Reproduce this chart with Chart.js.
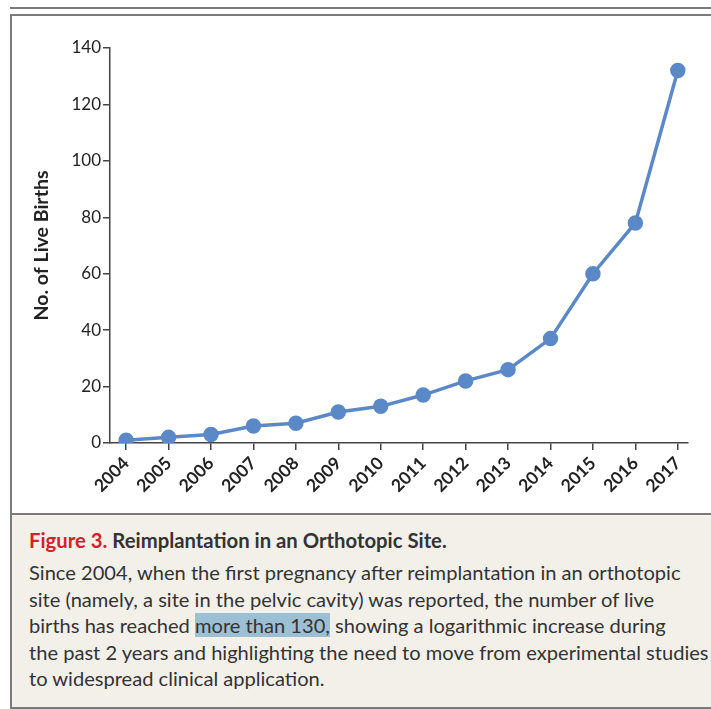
<!DOCTYPE html>
<html>
<head>
<meta charset="utf-8">
<script src="https://cdn.jsdelivr.net/npm/chart.js@4"></script>
<style>
  body { margin: 0; background: #fff; }
  #page { position: relative; width: 711px; height: 709px; overflow: hidden; font-family: Lato, "Open Sans", sans-serif; }
  #chartwrap { position: absolute; left: 0; top: 0; width: 711px; height: 500px; }
  .rule { position: absolute; background: #7a7a7a; }
  #caption { position: absolute; left: 12px; top: 515px; width: 699px; height: 192px; background: #f3f0ea; color: #333; }
  #caption .title { position: absolute; left: 17px; top: 13px; font-size: 20.3px; font-weight: bold; white-space: nowrap; }
  #caption .title .fig { color: #d4202c; }
  #caption .body { position: absolute; left: 17px; top: 44px; font-size: 20.1px; line-height: 26.5px; white-space: nowrap; }
  .hl { background: #9dbfd3; }
</style>
</head>
<body>
<div id="page">
  <div id="chartwrap"><canvas id="births_chart"></canvas></div>
  <div class="rule" style="left:10px; top:7px; width:701px; height:2px;"></div>
  <div class="rule" style="left:10px; top:14px; width:701px; height:2px;"></div>
  <div class="rule" style="left:10px; top:14px; width:2px; height:695px;"></div>
  <div class="rule" style="left:10px; top:513px; width:701px; height:2px;"></div>
  <div class="rule" style="left:10px; top:707px; width:701px; height:2px;"></div>
  <div id="caption">
    <div class="title"><span class="fig">Figure 3.</span> Reimplantation in an Orthotopic Site.</div>
    <div class="body">Since 2004, when the first pregnancy after reimplantation in an orthotopic<br>site (namely, a site in the pelvic cavity) was reported, the number of live<br>births has reached <span class="hl">more than 130,</span> showing a logarithmic increase during<br>the past 2 years and highlighting the need to move from experimental studies<br>to widespread clinical application.</div>
  </div>
</div>
<script>
// data
const years = [2004, 2005, 2006, 2007, 2008, 2009, 2010, 2011, 2012, 2013, 2014, 2015, 2016, 2017];
const live_births = [1, 2, 3, 6, 7, 11, 13, 17, 22, 26, 37, 60, 78, 132];
const y_ticks = [0, 20, 40, 60, 80, 100, 120, 140];

const births_chart = document.getElementById('births_chart');
const axis_color = '#444';
const tick_font = { family: 'Lato, "Open Sans", sans-serif', size: 17 };

new Chart(births_chart, {
  type: 'line',
  data: {
    datasets: [{
      label: 'No. of Live Births',
      data: years.map((yr, i) => ({ x: yr, y: live_births[i] })),
      borderColor: '#5b88c6',
      backgroundColor: '#5b88c6',
      borderWidth: 3.5,
      pointRadius: 6,
      pointHoverRadius: 6,
      tension: 0
    }]
  },
  options: {
    responsive: true,
    maintainAspectRatio: false,
    animation: false,
    layout: { padding: { left: 0, right: 23, top: 48, bottom: 0 } },
    plugins: { legend: { display: false }, tooltip: { enabled: false } },
    scales: {
      x: {
        type: 'linear',
        min: 2003.62,
        max: 2017.24,
        afterBuildTicks: (scale) => { scale.ticks = years.map(v => ({ value: v })); },
        afterFit: (scale) => { scale.height = 57; },
        border: { color: axis_color, width: 1.5 },
        grid: { drawOnChartArea: false, tickLength: 7, color: axis_color, lineWidth: 1.5 },
        ticks: {
          color: '#222',
          font: { ...tick_font, weight: 'bold', size: 17.5 },
          minRotation: 45,
          maxRotation: 45,
          padding: 3,
          callback: (v) => String(v)
        }
      },
      y: {
        min: 0,
        max: 140,
        afterBuildTicks: (scale) => { scale.ticks = y_ticks.map(v => ({ value: v })); },
        afterFit: (scale) => { scale.width = 110; },
        border: { color: axis_color, width: 1.5 },
        grid: { drawOnChartArea: false, tickLength: 7, color: axis_color, lineWidth: 1.5 },
        ticks: { color: '#222', font: tick_font, padding: 2 },
        title: {
          display: true,
          text: 'No. of Live Births',
          color: '#222',
          font: { family: 'Lato, "Open Sans", sans-serif', size: 19.5, weight: 'bold' },
          padding: { top: 30, bottom: 0 }
        }
      }
    }
  }
});
</script>
</body>
</html>
